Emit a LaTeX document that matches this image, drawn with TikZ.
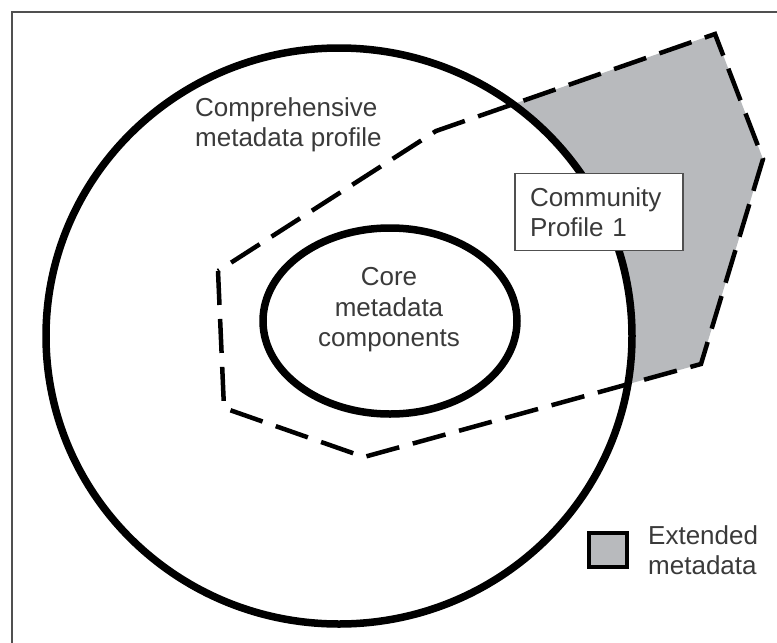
\documentclass[tikz,border=0pt]{standalone}
\usepackage{fontspec}
\setmainfont{Liberation Sans}
\usetikzlibrary{positioning}
\definecolor{extgray}{RGB}{184,186,189}
\definecolor{labelgray}{RGB}{58,58,58}
\definecolor{framegray}{RGB}{80,80,80}

\begin{document}
\begin{tikzpicture}[x=1pt, y=-1pt,
    ring/.style={line width=7.5pt},
    profileline/.style={line width=4.5pt, dash pattern=on 34pt off 14pt},
    lbl/.style={text=labelgray, font=\fontsize{26}{30.5}\selectfont, inner sep=0pt}]
    \useasboundingbox (0,0) rectangle (777,643);
    \fill[white] (0,0) rectangle (777,643);

    % Shapes
    \fill[extgray] (218,271) -- (224,408) -- (364,457) -- (701,364) -- (763,159) -- (715,34) -- (436,131) -- cycle;
    \filldraw[ring, fill=white] (339,336) ellipse [x radius=293pt, y radius=288pt];
    \draw[profileline] (218,271) -- (224,408) -- (364,457) -- (701,364) -- (763,159) -- (715,34) -- (436,131) -- cycle;
    \draw[ring] (390,321) ellipse [x radius=127pt, y radius=93pt];

    % Nodes
    \node (comprehensive) [lbl, anchor=north west, align=left] at (195,97) {Comprehensive\\metadata profile};
    \node (core) [lbl, align=center] at (389,310) {Core\\metadata\\components};
    \node (community) [lbl, draw=framegray, line width=1.5pt, fill=white, text width=138pt, align=left,
        inner xsep=15pt, inner ysep=13.5pt, minimum height=76pt] at (599,212) {Community\\Profile 1};
    \node (legendbox) [draw, line width=4pt, fill=extgray, minimum width=38pt, minimum height=34pt, inner sep=0pt] at (608,550) {};
    \node (extended) [lbl, align=left, right=19pt of legendbox] {Extended\\metadata};

    % Frame
    \draw[framegray, line width=2pt] (12,643) -- (12,12) -- (777,12);
\end{tikzpicture}
\end{document}
